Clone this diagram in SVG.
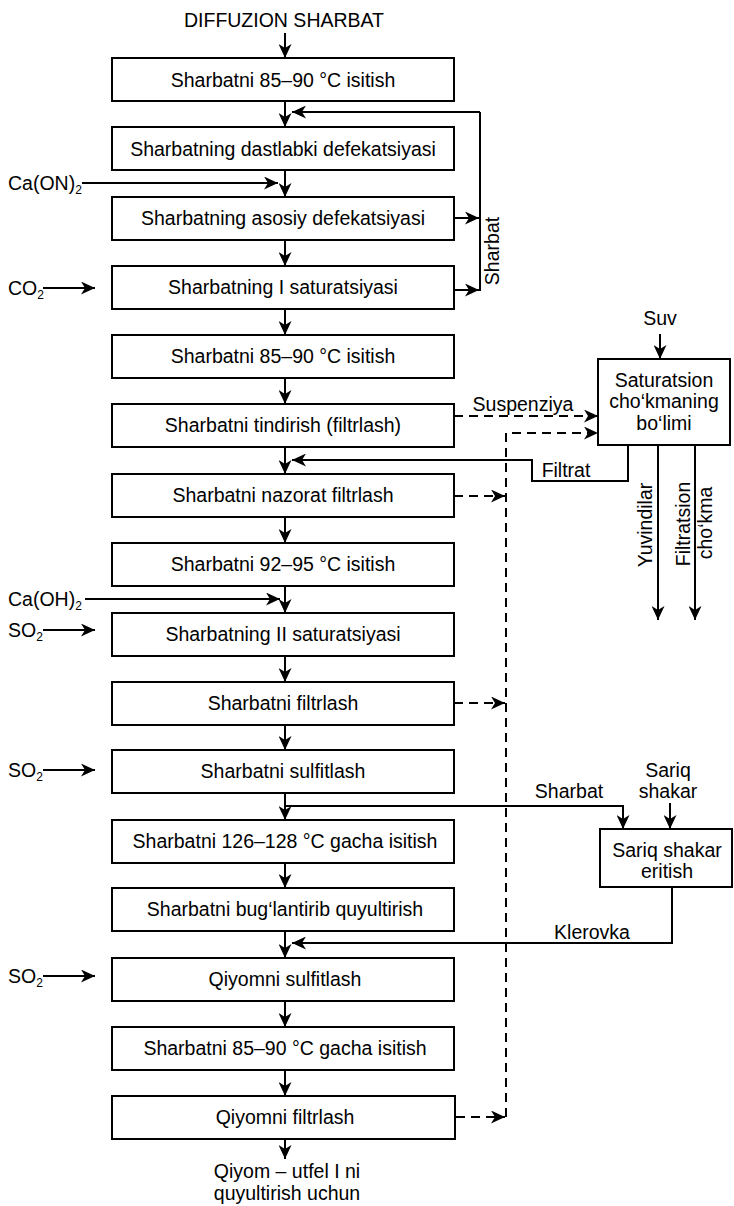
<svg xmlns="http://www.w3.org/2000/svg" width="734" height="1206" viewBox="0 0 734 1206">
<style>
.bx{fill:#fff;stroke:#000;stroke-width:2}
.t{font-family:"Liberation Sans",Arial,sans-serif;font-size:19.5px;fill:#000}
.c{text-anchor:middle}
.ln{fill:none;stroke:#000;stroke-width:2}
.ar{fill:none;stroke:#000;stroke-width:2;marker-end:url(#ah)}
.da{fill:none;stroke:#000;stroke-width:2;stroke-dasharray:9 6}
.dar{fill:none;stroke:#000;stroke-width:2;stroke-dasharray:9 6;marker-end:url(#ah)}
</style>
<defs>
<marker id="ah" markerUnits="userSpaceOnUse" markerWidth="15" markerHeight="13" refX="14" refY="6.5" orient="auto">
<path d="M0,0 L14,6.5 L0,13 L4,6.5 z" fill="#000"/>
</marker>
</defs>
<rect width="734" height="1206" fill="#fff"/>
<text class="t c" x="284" y="27">DIFFUZION SHARBAT</text>
<g id="connectors">
<path class="ar" d="M285,33 L285,58"/>
<path class="ar" d="M285,101 L285,127"/>
<path class="ar" d="M285,170 L285,197"/>
<path class="ar" d="M285,240 L285,266"/>
<path class="ar" d="M285,309 L285,335"/>
<path class="ar" d="M285,378 L285,404"/>
<path class="ar" d="M285,447 L285,474"/>
<path class="ar" d="M285,517 L285,543"/>
<path class="ar" d="M285,586 L285,613"/>
<path class="ar" d="M285,656 L285,682"/>
<path class="ar" d="M285,725 L285,750"/>
<path class="ar" d="M285,793 L285,820"/>
<path class="ar" d="M285,863 L285,888"/>
<path class="ar" d="M285,931 L285,958"/>
<path class="ar" d="M285,1001 L285,1027"/>
<path class="ar" d="M285,1070 L285,1096"/>
<path class="ar" d="M285,1139 L285,1159"/>
<!-- Sharbat loop -->
<path class="ar" d="M454,218 L479,218"/>
<path class="ar" d="M454,290 L479,290"/>
<path class="ln" d="M480,291 L480,112"/>
<path class="ar" d="M480,112 L292,112"/>
<!-- inputs -->
<path class="ar" d="M82,183 L278,183"/>
<path class="ar" d="M43,288 L95,288"/>
<path class="ar" d="M85,599 L280,599"/>
<path class="ar" d="M43,630 L95,630"/>
<path class="ar" d="M43,770 L95,770"/>
<path class="ar" d="M43,976 L95,976"/>
<!-- Saturatsion -->
<path class="ar" d="M660,334 L660,359"/>
<path class="dar" d="M454,416 L598,416"/>
<path class="dar" d="M506,1117 L506,433 L598,433"/>
<path class="dar" d="M454,496 L505,496"/>
<path class="dar" d="M454,703 L505,703"/>
<path class="dar" d="M456,1117 L505,1117"/>
<path class="ar" d="M628,445 L628,481 L532,481 L532,460 L292,460"/>
<path class="ar" d="M658,445 L658,620"/>
<path class="ar" d="M695,445 L695,620"/>
<!-- Sariq shakar -->
<path class="ar" d="M285,806 L623,806 L623,829"/>
<path class="ar" d="M670,803 L670,829"/>
<path class="ar" d="M672,887 L672,943 L292,943"/>
</g>
<g id="n1"><rect class="bx" x="112" y="58" width="342" height="43"/><text class="t c" x="283" y="87">Sharbatni 85–90 °C isitish</text></g>
<g id="n2"><rect class="bx" x="112" y="127" width="342" height="43"/><text class="t c" x="283" y="156">Sharbatning dastlabki defekatsiyasi</text></g>
<g id="n3"><rect class="bx" x="112" y="197" width="342" height="43"/><text class="t c" x="283" y="225">Sharbatning asosiy defekatsiyasi</text></g>
<g id="n4"><rect class="bx" x="112" y="266" width="342" height="43"/><text class="t c" x="283" y="294">Sharbatning I saturatsiyasi</text></g>
<g id="n5"><rect class="bx" x="112" y="335" width="342" height="43"/><text class="t c" x="283" y="363">Sharbatni 85–90 °C isitish</text></g>
<g id="n6"><rect class="bx" x="112" y="404" width="342" height="43"/><text class="t c" x="283" y="432">Sharbatni tindirish (filtrlash)</text></g>
<g id="n7"><rect class="bx" x="112" y="474" width="342" height="43"/><text class="t c" x="283" y="502">Sharbatni nazorat filtrlash</text></g>
<g id="n8"><rect class="bx" x="112" y="543" width="342" height="43"/><text class="t c" x="283" y="571">Sharbatni 92–95 °C isitish</text></g>
<g id="n9"><rect class="bx" x="112" y="613" width="342" height="43"/><text class="t c" x="283" y="641">Sharbatning II saturatsiyasi</text></g>
<g id="n10"><rect class="bx" x="112" y="682" width="342" height="43"/><text class="t c" x="283" y="710">Sharbatni filtrlash</text></g>
<g id="n11"><rect class="bx" x="112" y="750" width="342" height="43"/><text class="t c" x="283" y="778">Sharbatni sulfitlash</text></g>
<g id="n12"><rect class="bx" x="112" y="820" width="342" height="43"/><text class="t c" x="285" y="848">Sharbatni 126–128 °C gacha isitish</text></g>
<g id="n13"><rect class="bx" x="112" y="888" width="342" height="43"/><text class="t c" x="285" y="916">Sharbatni bug‘lantirib quyultirish</text></g>
<g id="n14"><rect class="bx" x="112" y="958" width="342" height="43"/><text class="t c" x="285" y="986">Qiyomni sulfitlash</text></g>
<g id="n15"><rect class="bx" x="112" y="1027" width="342" height="43"/><text class="t c" x="285" y="1055">Sharbatni 85–90 °C gacha isitish</text></g>
<g id="n16"><rect class="bx" x="112" y="1096" width="343" height="43"/><text class="t c" x="285" y="1124">Qiyomni filtrlash</text></g>
<g id="n17"><rect class="bx" x="598" y="359" width="132" height="86"/><text class="t c" x="664" y="387">Saturatsion</text><text class="t c" x="664" y="408">cho‘kmaning</text><text class="t c" x="664" y="430">bo‘limi</text></g>
<g id="n18"><rect class="bx" x="600" y="829" width="132" height="58"/><text class="t c" x="667" y="857">Sariq shakar</text><text class="t c" x="667" y="878">eritish</text></g>
<g id="labels">
<text class="t" x="8" y="190">Ca(ON)<tspan font-size="12" dy="4">2</tspan></text>
<text class="t" x="8" y="295">CO<tspan font-size="12" dy="4">2</tspan></text>
<text class="t" x="8" y="606">Ca(OH)<tspan font-size="12" dy="4">2</tspan></text>
<text class="t" x="8" y="637">SO<tspan font-size="12" dy="4">2</tspan></text>
<text class="t" x="8" y="777">SO<tspan font-size="12" dy="4">2</tspan></text>
<text class="t" x="8" y="983">SO<tspan font-size="12" dy="4">2</tspan></text>
<text class="t c" transform="translate(499,251) rotate(-90)">Sharbat</text>
<text class="t c" x="660" y="325">Suv</text>
<text class="t c" x="523" y="411">Suspenziya</text>
<text class="t c" x="566" y="477">Filtrat</text>
<text class="t c" transform="translate(652,525) rotate(-90)">Yuvindilar</text>
<text class="t c" transform="translate(690,524) rotate(-90)">Filtratsion</text>
<text class="t c" transform="translate(712,523) rotate(-90)">cho‘kma</text>
<text class="t c" x="569" y="798">Sharbat</text>
<text class="t c" x="668" y="777">Sariq</text>
<text class="t c" x="668" y="798">shakar</text>
<text class="t c" x="592" y="939">Klerovka</text>
<text class="t c" x="287" y="1178">Qiyom – utfel I ni</text>
<text class="t c" x="287" y="1200">quyultirish uchun</text>
</g>
</svg>
